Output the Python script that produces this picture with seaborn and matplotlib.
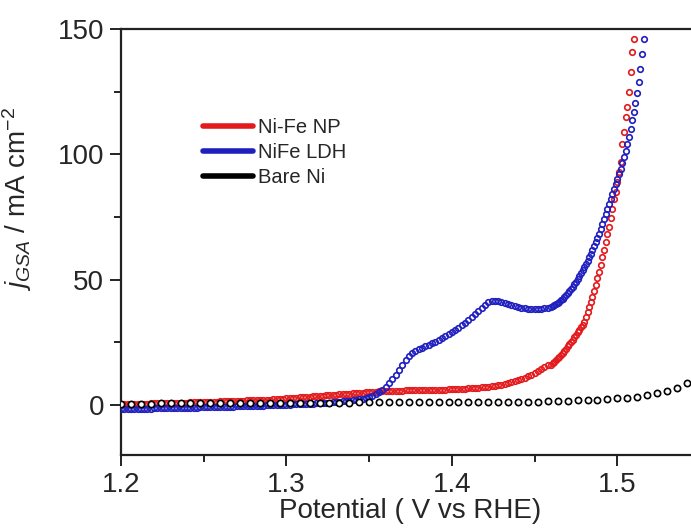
import numpy as np
import matplotlib
matplotlib.use("Agg")
import matplotlib.pyplot as plt
from matplotlib.lines import Line2D
import seaborn as sns

# ---------------- data ----------------
# Ni-Fe NP : 2 mV steps from 1.200 to 1.458 V, then 1 mV steps 1.460-1.510 V
np_potential_coarse = np.round(np.arange(1.200, 1.4590, 0.002), 3)
np_current_coarse = [
    0.3, 0.3, 0.35, 0.4, 0.4, 0.45, 0.5, 0.5, 0.55, 0.6,
    0.6, 0.65, 0.7, 0.7, 0.75, 0.8, 0.8, 0.85, 0.9, 0.9,
    0.95, 1.0, 1.0, 1.05, 1.1, 1.1, 1.15, 1.2, 1.25, 1.3,
    1.35, 1.4, 1.45, 1.5, 1.55, 1.6, 1.65, 1.7, 1.75, 1.8,
    1.85, 1.9, 1.95, 2.0, 2.05, 2.1, 2.2, 2.3, 2.4, 2.5,
    2.6, 2.7, 2.8, 2.9, 3.0, 3.1, 3.2, 3.3, 3.4, 3.5,
    3.6, 3.7, 3.8, 3.9, 4.0, 4.1, 4.2, 4.3, 4.4, 4.5,
    4.6, 4.7, 4.8, 4.9, 5.0, 5.1, 5.2, 5.3, 5.4, 5.5,
    5.5, 5.6, 5.6, 5.7, 5.7, 5.7, 5.8, 5.8, 5.8, 5.8,
    5.9, 5.9, 5.9, 5.9, 6.0, 6.0, 6.0, 6.1, 6.1, 6.2,
    6.2, 6.3, 6.3, 6.4, 6.5, 6.6, 6.7, 6.8, 6.9, 7.0,
    7.1, 7.3, 7.5, 7.7, 7.9, 8.1, 8.4, 8.7, 9.0, 9.4,
    9.8, 10.3, 10.8, 11.4, 12.0, 12.7, 13.4, 14.2, 15.0, 15.9,
]
np_potential_fine = np.round(np.arange(1.460, 1.5105, 0.001), 3)
np_current_fine = [
    16.0, 16.6, 17.2, 17.9, 18.6, 19.3, 20.0, 20.8, 21.6, 22.4,
    23.3, 24.2, 25.1, 26.0, 27.0, 28.0, 29.0, 30.0, 31.0, 32.0,
    33.0, 35.0, 37.0, 39.0, 41.0, 43.0, 45.5, 48.0, 50.5, 53.0,
    56.0, 59.0, 62.0, 65.0, 68.0, 71.0, 74.5, 78.0, 82.0, 85.0,
    89.0, 93.0, 97.0, 104.0, 109.0, 115.0, 119.0, 125.0, 133.0, 141.0,
    146.0,
]

# NiFe LDH : same sampling, up to 1.516 V
ldh_potential_coarse = np.round(np.arange(1.200, 1.4590, 0.002), 3)
ldh_current_coarse = [
    -1.6, -1.6, -1.6, -1.55, -1.55, -1.5, -1.5, -1.5, -1.45, -1.45,
    -1.4, -1.4, -1.35, -1.35, -1.3, -1.3, -1.25, -1.25, -1.2, -1.2,
    -1.15, -1.1, -1.1, -1.05, -1.0, -1.0, -0.95, -0.9, -0.9, -0.85,
    -0.8, -0.75, -0.7, -0.7, -0.65, -0.6, -0.55, -0.5, -0.5, -0.45,
    -0.4, -0.35, -0.3, -0.25, -0.2, -0.15, -0.1, -0.05, 0.0, 0.05,
    0.1, 0.15, 0.2, 0.25, 0.3, 0.35, 0.4, 0.5, 0.55, 0.6,
    0.7, 0.75, 0.85, 0.9, 1.0, 1.1, 1.2, 1.35, 1.5, 1.65,
    1.8, 2.0, 2.2, 2.5, 2.8, 3.2, 3.6, 4.2, 5.0, 6.0,
    7.2, 8.6, 10.2, 12.0, 14.0, 16.0, 18.0, 19.6, 20.8, 21.6,
    22.2, 22.8, 23.4, 24.0, 24.6, 25.2, 25.9, 26.6, 27.4, 28.2,
    29.0, 29.9, 30.8, 31.8, 32.8, 33.9, 35.0, 36.2, 37.5, 38.8,
    40.0, 40.9, 41.4, 41.5, 41.3, 41.0, 40.6, 40.2, 39.8, 39.4,
    39.1, 38.8, 38.6, 38.4, 38.3, 38.2, 38.2, 38.3, 38.5, 38.8,
]
ldh_potential_fine = np.round(np.arange(1.460, 1.5165, 0.001), 3)
ldh_current_fine = [
    39.1, 39.4, 39.8, 40.2, 40.7, 41.2, 41.8, 42.4, 43.1, 43.8,
    44.6, 45.4, 46.3, 47.2, 48.2, 49.2, 50.3, 51.4, 52.6, 53.8,
    55.0, 56.3, 57.6, 59.0, 60.4, 61.9, 63.4, 65.0, 66.6, 68.3,
    70.0, 72.0, 74.0, 76.0, 78.0, 80.0, 82.0, 84.0, 86.0, 88.0,
    90.0, 92.0, 94.0, 96.5, 99.0, 101.5, 104.0, 107.0, 110.0, 113.5,
    117.0, 120.5, 124.5, 129.0, 134.0, 140.0, 146.0,
]

# Bare Ni : 6 mV steps
ni_potential = np.round(np.arange(1.200, 1.5485, 0.006), 3)
ni_current = [
    0.5, 0.5, 0.55, 0.55, 0.6, 0.6, 0.6, 0.65, 0.65, 0.7,
    0.7, 0.7, 0.75, 0.75, 0.8, 0.8, 0.8, 0.85, 0.85, 0.9,
    0.9, 0.9, 0.95, 0.95, 1.0, 1.0, 1.0, 1.0, 1.0, 1.0,
    1.0, 1.0, 1.0, 1.0, 1.0, 1.05, 1.05, 1.1, 1.1, 1.15,
    1.2, 1.25, 1.3, 1.4, 1.5, 1.6, 1.75, 1.9, 2.1, 2.3,
    2.6, 2.9, 3.3, 3.9, 4.6, 5.5, 6.8, 8.6, 11.0,
]

series_labels = ["Ni-Fe NP", "NiFe LDH", "Bare Ni"]
series_colors = ["#e3191c", "#1f1fbf", "#000000"]
x_ticks = [1.2, 1.3, 1.4, 1.5]
y_ticks = [0, 50, 100, 150]

# ---------------- styling ----------------
sns.set_theme(style="white")
plt.rcParams["font.family"] = ["Liberation Sans", "DejaVu Sans"]
plt.rcParams["mathtext.fontset"] = "custom"
plt.rcParams["mathtext.rm"] = "Liberation Sans"
plt.rcParams["mathtext.it"] = "Liberation Sans:italic"

fig = plt.figure(figsize=(6.91, 5.28), dpi=100)
ax = fig.add_axes([121 / 691, 73 / 528, 579 / 691, 426 / 528])

np_x = np.concatenate([np_potential_coarse, np_potential_fine])
np_y = np.array(np_current_coarse + np_current_fine)
ldh_x = np.concatenate([ldh_potential_coarse, ldh_potential_fine])
ldh_y = np.array(ldh_current_coarse + ldh_current_fine)

ms = 4.0
mew = 1.2
sns.lineplot(x=np_x, y=np_y, ax=ax, linestyle="none", marker="o", markersize=ms,
             markerfacecolor="none", markeredgecolor=series_colors[0],
             markeredgewidth=mew, color=series_colors[0], sort=False,
             errorbar=None, legend=False, zorder=3)
sns.lineplot(x=ldh_x, y=ldh_y, ax=ax, linestyle="none", marker="o", markersize=ms,
             markerfacecolor="none", markeredgecolor=series_colors[1],
             markeredgewidth=mew, color=series_colors[1], sort=False,
             errorbar=None, legend=False, zorder=4)
sns.lineplot(x=ni_potential, y=np.array(ni_current), ax=ax, linestyle="none",
             marker="o", markersize=4.5, markerfacecolor="white",
             markeredgecolor=series_colors[2], markeredgewidth=1.2,
             color=series_colors[2], sort=False, errorbar=None, legend=False,
             zorder=5)

ax.set_xlim(1.2, 1.55)
ax.set_ylim(-20, 150)
ax.set_xticks(x_ticks)
ax.set_xticklabels([f"{t:.1f}" for t in x_ticks])
ax.set_yticks(y_ticks)
ax.set_xticks([1.25, 1.35, 1.45], minor=True)
ax.set_yticks([25, 75, 125], minor=True)

for side in ["left", "bottom", "top", "right"]:
    ax.spines[side].set_color("#222222")
    ax.spines[side].set_linewidth(1.6)
ax.spines["right"].set_visible(False)

ax.tick_params(axis="both", which="major", direction="out", length=8, width=1.4,
               color="#222222", labelsize=20, pad=4, bottom=True, left=True,
               top=False, right=False)
ax.tick_params(axis="both", which="minor", direction="out", length=5, width=1.4,
               color="#222222", bottom=True, left=True, top=False, right=False)

ax.set_xlabel("Potential ( V vs RHE)", fontsize=20, labelpad=0)
ax.set_ylabel(r"$j_{GSA}$ / mA cm$^{-2}$", fontsize=20)
ax.yaxis.set_label_coords(-0.15, 0.6)

handles = [Line2D([0], [0], color=c, lw=4) for c in series_colors]
fig.legend(handles, series_labels, loc="upper left",
           bbox_to_anchor=(203 / 691, 1 - 118 / 528), bbox_transform=fig.transFigure,
           frameon=False, fontsize=14.5, handlelength=2.5, handletextpad=0.25,
           labelspacing=0.3, borderpad=0, borderaxespad=0)

fig.savefig("out.png", dpi=100)
